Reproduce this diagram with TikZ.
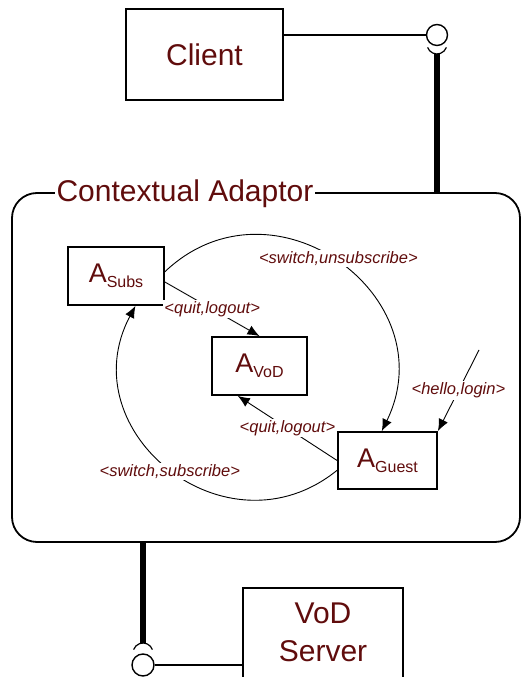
\documentclass[tikz,border=0pt]{standalone}
\usepackage{fontspec}
\setmainfont{Liberation Sans}
\usepackage{tikz}
\usetikzlibrary{arrows.meta}
\definecolor{dred}{RGB}{96,12,12}
\newcommand{\subtxt}[1]{\raisebox{-5pt}{\fontsize{16}{18}\selectfont #1}}

\begin{document}
\begin{tikzpicture}[x=1pt, y=1pt,
		box/.style={draw, line width=1.8pt, text=dred, font=\fontsize{30}{38}\selectfont, inner sep=0pt},
		state/.style={draw, line width=1.8pt, text=dred, font=\fontsize{27}{32}\selectfont, inner sep=0pt},
		ball/.style={draw, circle, line width=1.4pt, inner sep=0pt, minimum size=21pt},
		lbl/.style={fill=white, text=dred, font=\fontsize{16.5}{18}\selectfont\itshape, inner sep=1.5pt},
		arr/.style={-{Latex[length=12pt,width=10pt]}, line width=0.9pt}]
		\useasboundingbox (0,0) rectangle (522,677);

		\node[box, minimum width=157, minimum height=91] (1) at (204.5,622.5) {Client};
		\node[ball] (2) at (437,642) {};
		\node[draw, line width=1.8pt, rounded corners=25pt, minimum width=508, minimum height=349] (3) at (266,309.5) {};
		\node[fill=white, text=dred, font=\fontsize{30}{36}\selectfont, inner sep=2pt, anchor=base] (4) at (185,475) {Contextual Adaptor};
		\node[state, minimum width=96, minimum height=58] (5) at (116,401) {A\subtxt{Subs}};
		\node[state, minimum width=95, minimum height=58] (6) at (259.5,311) {A\subtxt{VoD}};
		\node[state, minimum width=99, minimum height=57] (7) at (387.5,216.5) {A\subtxt{Guest}};
		\node[ball, minimum size=22pt] (8) at (143,12) {};
		\node[box, anchor=north, minimum width=160, minimum height=120] (9) at (323,90)
			{\raisebox{12.5pt}[\height][\depth]{\begin{tabular}{@{}c@{}}VoD\\Server\end{tabular}}};

		% sockets
		\coordinate (s1) at (437,623);
		\coordinate (s2) at (143,34);
		\draw[line width=1.2pt] (437,633) ++(-160:10) arc[start angle=-160, end angle=-20, radius=10];
		\draw[line width=1.2pt] (143,24) ++(20:10) arc[start angle=20, end angle=160, radius=10];
		\coordinate (h) at (479,327);

		\draw[line width=1.2pt] (1.east |- 2) -- (2);
		\draw[line width=6pt] (s1) -- (3.north -| s1);
		\draw[line width=6pt] (3.south -| s2) -- (s2);
		\draw[line width=1.2pt] (8) -- (9.west |- 8);

		\draw[arr] (5.-7) -- node[lbl] {<quit,logout>} (6.north);
		\draw[arr] (7.west) -- node[lbl] {<quit,logout>} (6.234);
		\draw[arr] (5.5) to[out=43.5, in=64, looseness=1.42] node[lbl, pos=0.5, yshift=4pt] {<switch,unsubscribe>} (7.101);
		\draw[arr] (7.191) to[out=219, in=242, looseness=1.4] node[lbl, pos=0.5, yshift=-3pt] {<switch,subscribe>} (5.-57);
		\draw[arr] (h) -- node[lbl] {<hello,login>} (7.north east);
	\end{tikzpicture}
\end{document}
